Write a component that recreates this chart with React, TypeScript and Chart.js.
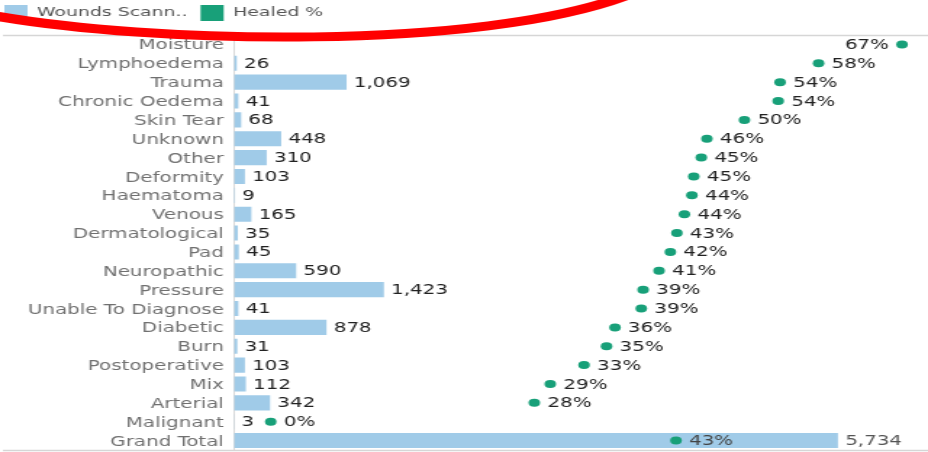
import React, { useEffect, useRef } from 'react';
import { Chart, registerables } from 'chart.js';

Chart.register(...registerables);

const categories = [
  'Moisture', 'Lymphoedema', 'Trauma', 'Chronic Oedema', 'Skin Tear', 'Unknown', 'Other',
  'Deformity', 'Haematoma', 'Venous', 'Dermatological', 'Pad', 'Neuropathic', 'Pressure',
  'Unable To Diagnose', 'Diabetic', 'Burn', 'Postoperative', 'Mix', 'Arterial', 'Malignant',
  'Grand Total',
];

const woundsScanned: (number | null)[] = [
  null, 26, 1069, 41, 68, 448, 310, 103, 9, 165, 35, 45, 590, 1423, 41, 878, 31, 103, 112,
  342, 3, 5734,
];

const healedPct = [
  67.3, 58.4, 54.3, 54.1, 50.5, 46.5, 45.9, 45.1, 44.9, 44.1, 43.3, 42.6, 41.4, 39.7, 39.5,
  36.7, 35.8, 33.4, 29.8, 28.1, 0, 43.2,
];

const seriesNames = ['Wounds Scann..', 'Healed %'];

const STRETCH = 1.45;
const FULL_W = 928;
const FULL_H = 452;
const W = FULL_W / STRETCH;
const FONT = '"DejaVu Sans", sans-serif';
const TEXT_SIZE = 13.7;

const BAR_COLOR = '#a0cbe8';
const DOT_COLOR = '#18a079';

const legendHeightPlugin = {
  id: 'legendHeight',
  beforeInit(chart: any) {
    const lg = chart.legend;
    if (lg) {
      const orig = lg.fit;
      lg.fit = function () {
        orig.call(this);
        this.height = 35;
      };
    }
  },
  afterLayout(chart: any) {
    const lg = chart.legend;
    if (lg) {
      lg.left = lg.left - 6;
      lg.top = lg.top - 4;
    }
  },
};

const framePlugin = {
  id: 'frameLines',
  beforeDatasetsDraw(chart: any) {
    const { ctx, chartArea } = chart;
    ctx.save();
    ctx.strokeStyle = '#d6d6d6';
    ctx.lineWidth = 1.5;
    ctx.beginPath();
    ctx.moveTo(2, chartArea.top + 0.5);
    ctx.lineTo(chart.width, chartArea.top + 0.5);
    ctx.moveTo(2, chartArea.bottom + 0.5);
    ctx.lineTo(chart.width, chartArea.bottom + 0.5);
    ctx.stroke();
    ctx.restore();
  },
};

const valueLabelsPlugin = {
  id: 'valueLabels',
  afterDatasetsDraw(chart: any) {
    const ctx = chart.ctx;
    ctx.save();
    ctx.font = `${TEXT_SIZE}px ${FONT}`;
    ctx.textBaseline = 'middle';
    const last = categories.length - 1;
    const barMeta = chart.getDatasetMeta(0);
    barMeta.data.forEach((el: any, i: number) => {
      const v = woundsScanned[i];
      if (v == null) return;
      ctx.fillStyle = i === last ? '#555555' : '#222222';
      ctx.textAlign = 'left';
      ctx.fillText(v.toLocaleString('en-US'), el.x + 5, el.y + 1);
    });
    const ptMeta = chart.getDatasetMeta(1);
    ptMeta.data.forEach((el: any, i: number) => {
      const txt = `${Math.floor(healedPct[i])}%`;
      const w = ctx.measureText(txt).width;
      const toLeft = el.x + 9 + w > chart.chartArea.right;
      ctx.fillStyle = i === last ? '#444444' : '#222222';
      ctx.textAlign = toLeft ? 'right' : 'left';
      ctx.fillText(txt, toLeft ? el.x - 9 : el.x + 9, el.y + 1);
    });
    ctx.restore();
  },
};

const markerPlugin = {
  id: 'redMarker',
  afterDraw(chart: any) {
    const ctx = chart.ctx;
    const s = STRETCH;
    ctx.save();
    ctx.strokeStyle = '#ff0000';
    ctx.lineWidth = 9;
    ctx.lineCap = 'round';
    ctx.beginPath();
    ctx.moveTo(-10 / s, 15);
    ctx.bezierCurveTo(150 / s, 44, 480 / s, 51, 628 / s, -5);
    ctx.stroke();
    ctx.restore();
  },
};

export default function App() {
  const ref = useRef<HTMLCanvasElement>(null);

  useEffect(() => {
    document.body.style.margin = '0';
    document.body.style.overflow = 'hidden';
    const chart = new Chart(ref.current as HTMLCanvasElement, {
      type: 'bar',
      data: {
        labels: categories,
        datasets: [
          {
            type: 'bar',
            label: seriesNames[0],
            data: woundsScanned as any,
            backgroundColor: BAR_COLOR,
            borderWidth: 0,
            xAxisID: 'x',
            yAxisID: 'y',
            barPercentage: 0.8,
            categoryPercentage: 1,
            order: 2,
          },
          {
            type: 'line',
            label: seriesNames[1],
            data: healedPct,
            backgroundColor: DOT_COLOR,
            borderColor: DOT_COLOR,
            borderWidth: 0,
            showLine: false,
            pointRadius: 4,
            pointBorderWidth: 0,
            pointBackgroundColor: DOT_COLOR,
            xAxisID: 'x2',
            yAxisID: 'y',
            order: 1,
          } as any,
        ],
      },
      options: {
        indexAxis: 'y',
        responsive: true,
        maintainAspectRatio: false,
        animation: false,
        events: [],
        layout: { autoPadding: false, padding: { top: 0, bottom: 2, left: 0, right: 0 } },
        scales: {
          x: { type: 'linear', display: false, min: 0, max: 6589 },
          x2: { type: 'linear', display: false, min: -3.91, max: 70.07 },
          y: {
            type: 'category',
            offset: true,
            grid: { display: false, drawTicks: false },
            border: { display: true, color: '#d9d9d9', width: 1 },
            ticks: {
              color: '#707070',
              font: { family: FONT, size: TEXT_SIZE },
              padding: 7,
              labelOffset: 1.5,
              autoSkip: false,
            },
            afterFit(scale: any) {
              scale.width = 161.4;
              scale.paddingTop = 0;
              scale.paddingBottom = 0;
            },
          },
        },
        plugins: {
          legend: {
            display: true,
            position: 'top',
            align: 'start',
            labels: {
              boxWidth: 16,
              boxHeight: 16,
              padding: 9,
              color: '#555555',
              font: { family: FONT, size: 13 },
              sort: (a: any, b: any) => a.datasetIndex - b.datasetIndex,
            },
          },
          tooltip: { enabled: false },
        },
      },
      plugins: [legendHeightPlugin, framePlugin, valueLabelsPlugin, markerPlugin],
    });
    return () => chart.destroy();
  }, []);

  return (
    <div
      style={{
        position: 'absolute',
        left: 0,
        top: 0,
        width: W,
        height: FULL_H,
        transform: `scaleX(${STRETCH})`,
        transformOrigin: '0 0',
      }}
    >
      <canvas ref={ref} />
    </div>
  );
}
